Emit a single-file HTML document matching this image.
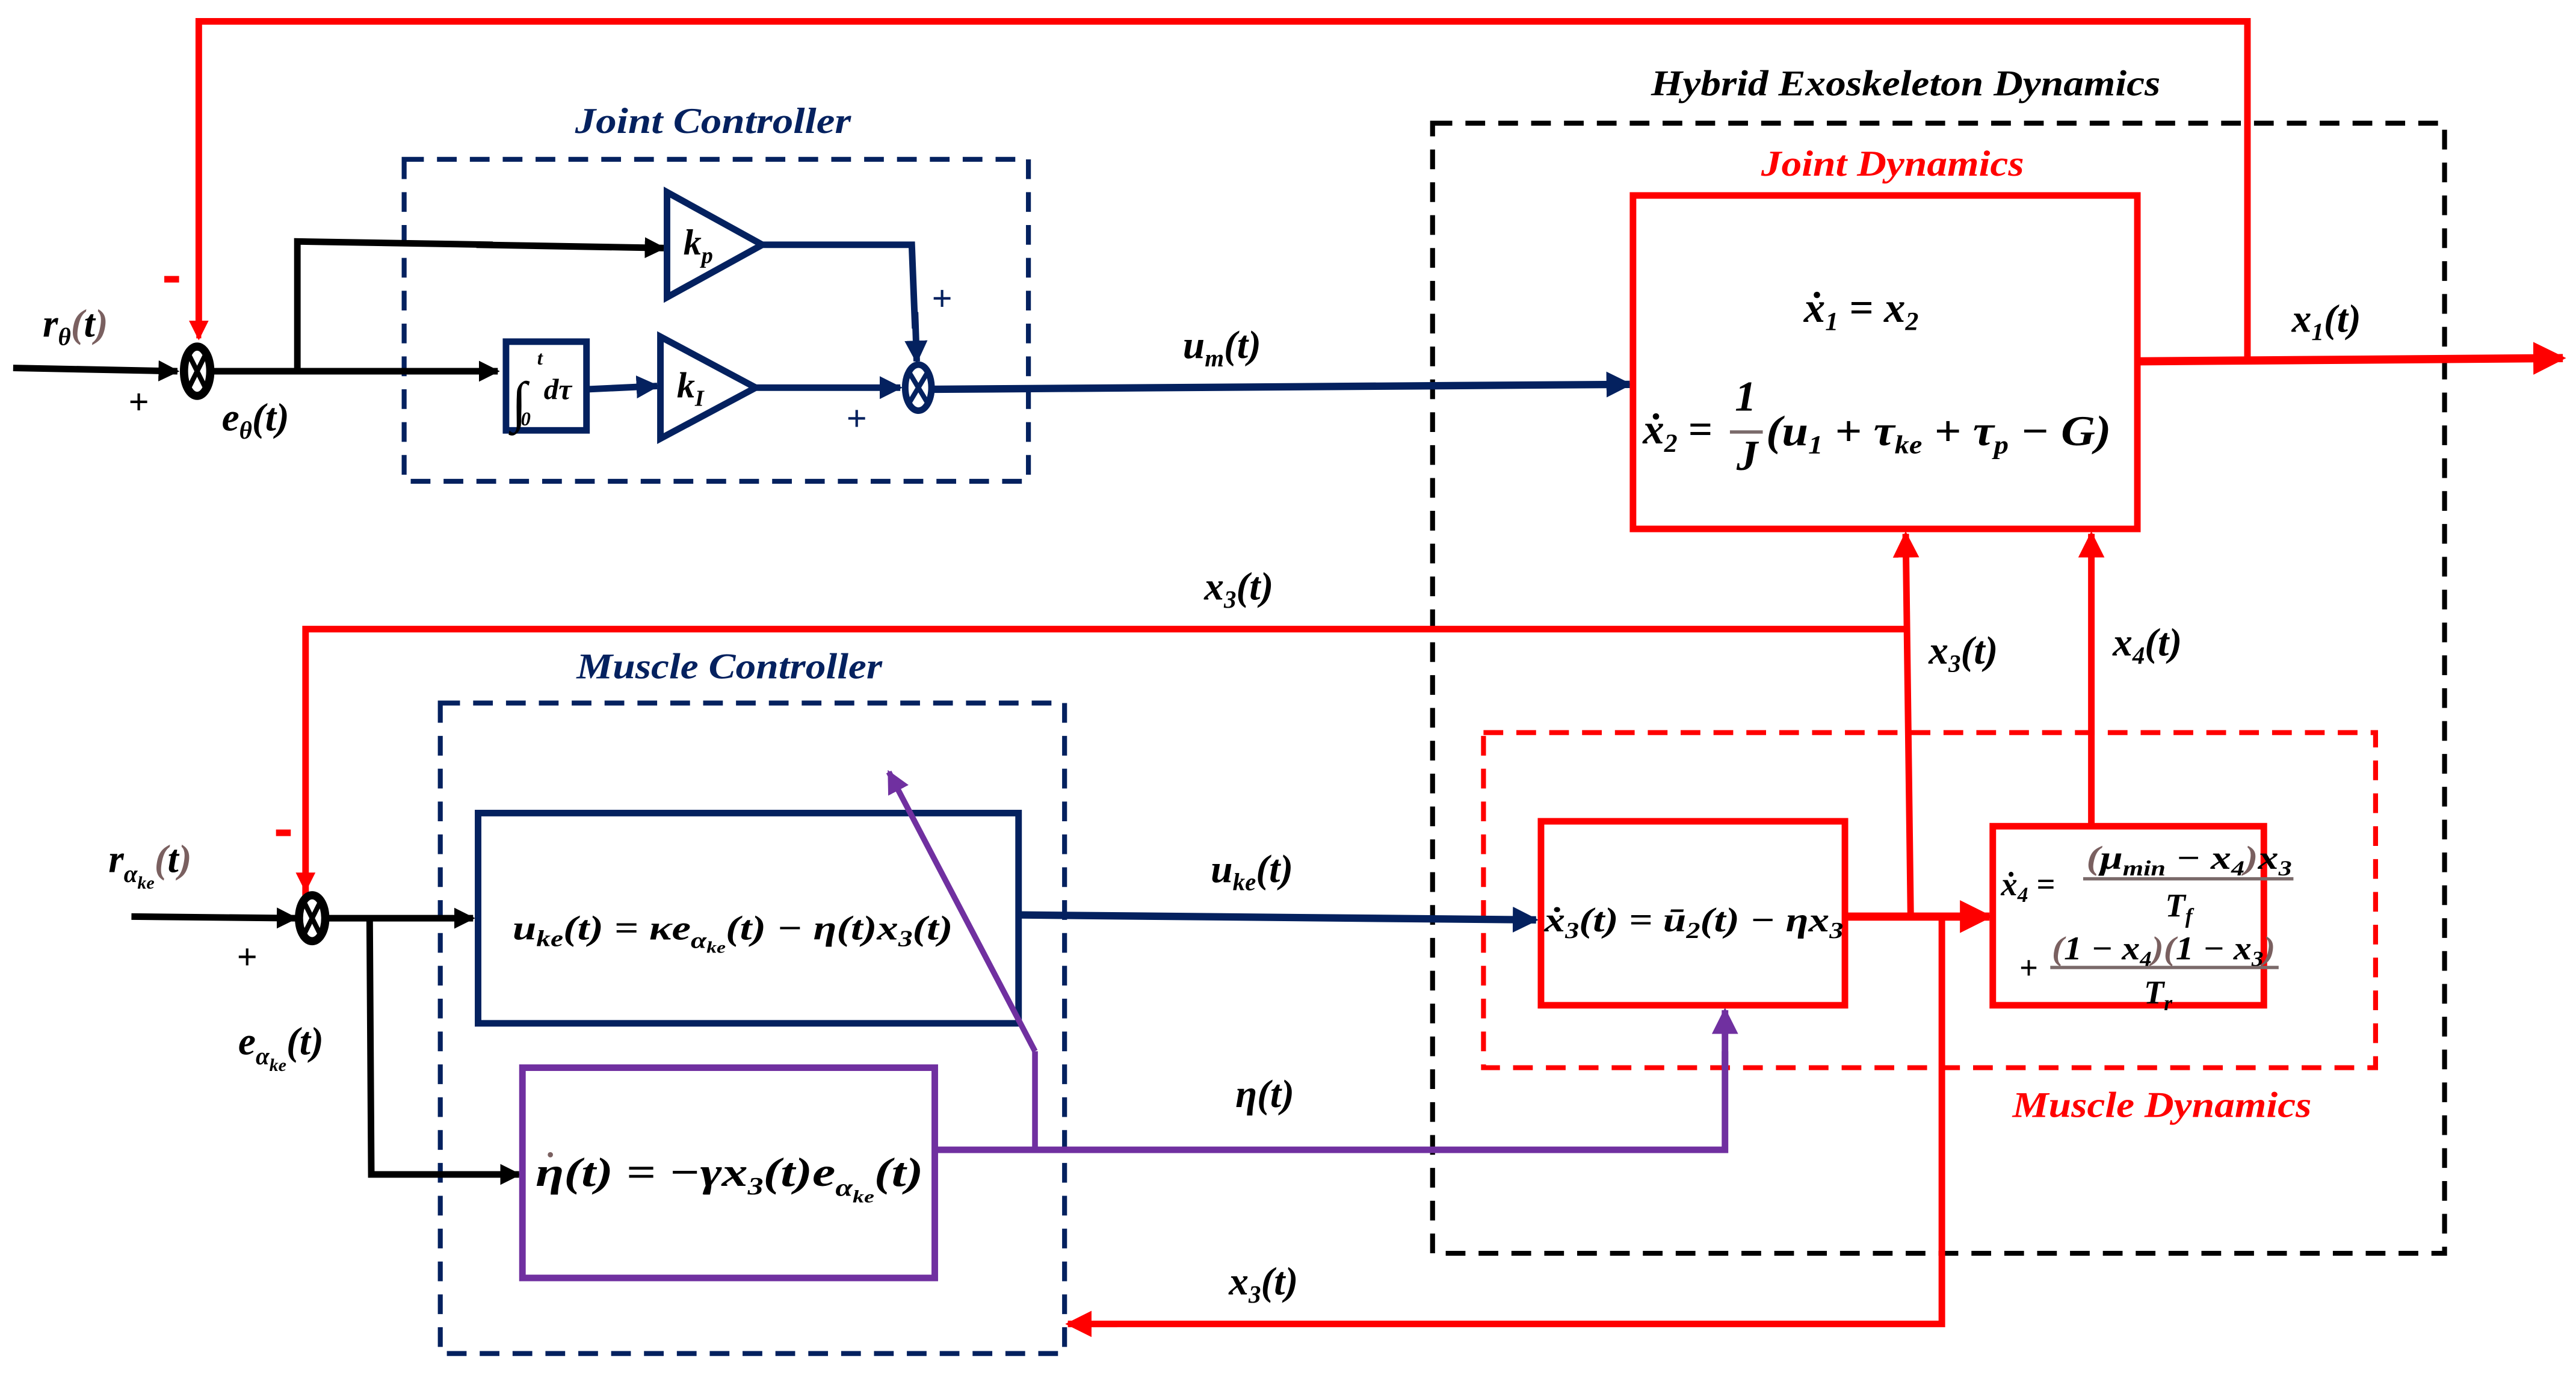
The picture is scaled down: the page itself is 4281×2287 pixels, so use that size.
<!DOCTYPE html>
<html><head><meta charset="utf-8"><style>
html,body{margin:0;padding:0;background:#fff;}
svg{display:block;}
text{font-family:"Liberation Serif",serif;font-weight:bold;font-style:italic;}
</style></head><body>
<svg width="4281" height="2287" viewBox="0 0 1568 837.7" preserveAspectRatio="none" xmlns="http://www.w3.org/2000/svg">
<defs>
<marker id="ar" viewBox="0 0 10 10" refX="9" refY="5" markerWidth="4" markerHeight="4" orient="auto" markerUnits="strokeWidth"><path d="M0,0L10,5L0,10z" fill="#f00"/></marker>
<marker id="ak" viewBox="0 0 10 10" refX="9" refY="5" markerWidth="3.2" markerHeight="3.2" orient="auto" markerUnits="strokeWidth"><path d="M0,0L10,5L0,10z" fill="#000"/></marker>
<marker id="an" viewBox="0 0 10 10" refX="9" refY="5" markerWidth="3.5" markerHeight="3.5" orient="auto" markerUnits="strokeWidth"><path d="M0,0L10,5L0,10z" fill="#04215f"/></marker>
<marker id="ap" viewBox="0 0 10 10" refX="9" refY="5" markerWidth="4" markerHeight="4" orient="auto" markerUnits="strokeWidth"><path d="M0,0L10,5L0,10z" fill="#7030a0"/></marker>
</defs>

<rect x="246" y="97" width="380" height="196" fill="none" stroke="#04215f" stroke-width="3" stroke-dasharray="12,8"/>
<rect x="872" y="75" width="616" height="688" fill="none" stroke="#000" stroke-width="3" stroke-dasharray="12,8"/>
<rect x="268" y="428" width="380" height="396" fill="none" stroke="#04215f" stroke-width="3" stroke-dasharray="12,8"/>
<rect x="903" y="446" width="543" height="204" fill="none" stroke="#f00" stroke-width="3" stroke-dasharray="12,8"/>

<text x="434" y="81" font-size="22" fill="#04215f" text-anchor="middle" textLength="168" lengthAdjust="spacingAndGlyphs">Joint Controller</text>
<text x="1160" y="58" font-size="22" fill="#000" text-anchor="middle" textLength="310" lengthAdjust="spacingAndGlyphs">Hybrid Exoskeleton Dynamics</text>
<text x="1152" y="107" font-size="22" fill="#f00" text-anchor="middle" textLength="160" lengthAdjust="spacingAndGlyphs">Joint Dynamics</text>
<text x="444" y="413" font-size="22" fill="#04215f" text-anchor="middle" textLength="186" lengthAdjust="spacingAndGlyphs">Muscle Controller</text>
<text x="1316" y="680" font-size="22" fill="#f00" text-anchor="middle" textLength="182" lengthAdjust="spacingAndGlyphs">Muscle Dynamics</text>

<polyline points="121,200 121,13 1368,13 1368,219" fill="none" stroke="#f00" stroke-width="4"/>
<line x1="121" y1="150" x2="121" y2="206" stroke="#f00" stroke-width="3" marker-end="url(#ar)"/>

<line x1="8" y1="224" x2="108" y2="226" stroke="#000" stroke-width="4" marker-end="url(#ak)"/>
<ellipse cx="120" cy="226" rx="8" ry="15" fill="none" stroke="#000" stroke-width="5"/>
<path d="M114,214 L126,238 M126,214 L114,238" stroke="#000" stroke-width="3"/>
<text x="78" y="252" font-size="22" fill="#000" font-style="normal" font-weight="normal">+</text>
<rect x="100" y="168" width="9" height="4" fill="#f00"/>
<text x="26" y="205" font-size="24" fill="#000">r<tspan font-size="15" dy="5">θ</tspan><tspan dy="-5" fill="#7a6060">(</tspan>t<tspan fill="#7a6060">)</tspan></text>
<text x="135" y="262" font-size="24" fill="#000">e<tspan font-size="15" dy="5">θ</tspan><tspan dy="-5">(t)</tspan></text>

<line x1="128" y1="226" x2="303" y2="226" stroke="#000" stroke-width="4" marker-end="url(#ak)"/>
<polyline points="181,226 181,147 300,149" fill="none" stroke="#000" stroke-width="4"/>
<line x1="290" y1="149" x2="404" y2="151" stroke="#000" stroke-width="4" marker-end="url(#ak)"/>
<rect x="308" y="208" width="49" height="54" fill="none" stroke="#04215f" stroke-width="4"/>
<text x="311" y="256" font-size="34" fill="#000" font-style="normal" font-weight="normal">∫</text>
<text x="327" y="222" font-size="12" fill="#000">t</text>
<text x="317" y="259" font-size="12" fill="#000">0</text>
<text x="331" y="243" font-size="18" fill="#000">dτ</text>
<line x1="357" y1="237" x2="400" y2="235" stroke="#04215f" stroke-width="4" marker-end="url(#an)"/>
<polygon points="406,117 406,181 464,149" fill="none" stroke="#04215f" stroke-width="4"/>
<polygon points="402,205 402,267 460,236" fill="none" stroke="#04215f" stroke-width="4"/>
<text x="416" y="155" font-size="22" fill="#000">k<tspan font-size="14" dy="5">p</tspan></text>
<text x="412" y="242" font-size="22" fill="#000">k<tspan font-size="14" dy="5">I</tspan></text>
<polyline points="464,149 555,149 557,200" fill="none" stroke="#04215f" stroke-width="4"/>
<line x1="557" y1="190" x2="558" y2="220" stroke="#04215f" stroke-width="4" marker-end="url(#an)"/>
<line x1="460" y1="236" x2="548" y2="236" stroke="#04215f" stroke-width="4" marker-end="url(#an)"/>
<ellipse cx="559" cy="236" rx="8" ry="14" fill="none" stroke="#04215f" stroke-width="4"/>
<path d="M553,226 L565,246 M565,226 L553,246" stroke="#04215f" stroke-width="3"/>
<text x="567" y="189" font-size="22" fill="#04215f" font-style="normal" font-weight="normal">+</text>
<text x="515" y="262" font-size="22" fill="#04215f" font-style="normal" font-weight="normal">+</text>
<line x1="568" y1="237" x2="992" y2="234" stroke="#04215f" stroke-width="4.5" marker-end="url(#an)"/>
<text x="720" y="218" font-size="24" fill="#000">u<tspan font-size="15" dy="5">m</tspan><tspan dy="-5">(t)</tspan></text>

<rect x="994" y="119" width="307" height="203" fill="none" stroke="#f00" stroke-width="4"/>
<text x="1098" y="196" font-size="26" fill="#000">ẋ<tspan font-size="16" dy="5">1</tspan><tspan dy="-5"> = x</tspan><tspan font-size="16" dy="5">2</tspan></text>
<text x="1000" y="270" font-size="26" fill="#000">ẋ<tspan font-size="16" dy="5">2</tspan><tspan dy="-5"> =</tspan></text>
<text x="1056" y="250" font-size="26" fill="#000" font-style="normal">1</text>
<line x1="1053" y1="263" x2="1073" y2="263" stroke="#7a6a6a" stroke-width="2"/>
<text x="1057" y="286" font-size="26" fill="#000">J</text>
<text x="1075" y="271" font-size="26" fill="#000" textLength="210" lengthAdjust="spacingAndGlyphs">(u<tspan font-size="16" dy="5">1</tspan><tspan dy="-5"> + τ</tspan><tspan font-size="16" dy="5">ke</tspan><tspan dy="-5"> + τ</tspan><tspan font-size="16" dy="5">p</tspan><tspan dy="-5"> − G)</tspan></text>
<line x1="1301" y1="220" x2="1560" y2="218" stroke="#f00" stroke-width="5" marker-end="url(#ar)"/>
<text x="1395" y="202" font-size="24" fill="#000">x<tspan font-size="15" dy="5">1</tspan><tspan dy="-5">(t)</tspan></text>

<polyline points="186,548 186,383 1160,383" fill="none" stroke="#f00" stroke-width="4"/>
<line x1="186" y1="500" x2="186" y2="542" stroke="#f00" stroke-width="3" marker-end="url(#ar)"/>
<line x1="1163" y1="557" x2="1160" y2="325" stroke="#f00" stroke-width="4" marker-end="url(#ar)"/>
<line x1="1273" y1="503" x2="1273" y2="325" stroke="#f00" stroke-width="4" marker-end="url(#ar)"/>
<text x="733" y="365" font-size="24" fill="#000">x<tspan font-size="15" dy="5">3</tspan><tspan dy="-5">(t)</tspan></text>
<text x="1174" y="404" font-size="24" fill="#000">x<tspan font-size="15" dy="5">3</tspan><tspan dy="-5">(t)</tspan></text>
<text x="1286" y="399" font-size="24" fill="#000">x<tspan font-size="15" dy="5">4</tspan><tspan dy="-5">(t)</tspan></text>

<line x1="80" y1="558" x2="180" y2="559" stroke="#000" stroke-width="4" marker-end="url(#ak)"/>
<ellipse cx="190" cy="559" rx="8" ry="14" fill="none" stroke="#000" stroke-width="5"/>
<path d="M185,549 L195,569 M195,549 L185,569" stroke="#000" stroke-width="3"/>
<rect x="168" y="505" width="9" height="4" fill="#f00"/>
<text x="144" y="590" font-size="22" fill="#000" font-style="normal" font-weight="normal">+</text>
<text x="66" y="531" font-size="24" fill="#000">r<tspan font-size="15" dy="6">α</tspan><tspan font-size="11" dy="4">ke</tspan><tspan dy="-10" fill="#7a6060">(</tspan>t<tspan fill="#7a6060">)</tspan></text>
<text x="145" y="642" font-size="24" fill="#000">e<tspan font-size="15" dy="6">α</tspan><tspan font-size="11" dy="4">ke</tspan><tspan dy="-10">(t)</tspan></text>
<line x1="198" y1="559" x2="288" y2="559" stroke="#000" stroke-width="4" marker-end="url(#ak)"/>
<polyline points="225,559 226,715 300,715" fill="none" stroke="#000" stroke-width="4"/>
<line x1="290" y1="715" x2="316" y2="715" stroke="#000" stroke-width="4" marker-end="url(#ak)"/>

<rect x="291" y="495" width="329" height="128" fill="none" stroke="#04215f" stroke-width="4"/>
<text x="312" y="572" font-size="21" fill="#000" textLength="268" lengthAdjust="spacingAndGlyphs">u<tspan font-size="14" dy="4">ke</tspan><tspan dy="-4">(t) = κe</tspan><tspan font-size="14" dy="5">α</tspan><tspan font-size="10" dy="3">ke</tspan><tspan dy="-8">(t) − η(t)x</tspan><tspan font-size="14" dy="4">3</tspan><tspan dy="-4">(t)</tspan></text>
<rect x="318" y="650" width="251" height="128" fill="none" stroke="#7030a0" stroke-width="4"/>
<circle cx="335" cy="703" r="1.6" fill="#7a6060"/>
<text x="326" y="722" font-size="25" fill="#000" textLength="236" lengthAdjust="spacingAndGlyphs">η(t) = −γx<tspan font-size="15" dy="5">3</tspan><tspan dy="-5">(t)e</tspan><tspan font-size="15" dy="6">α</tspan><tspan font-size="11" dy="4">ke</tspan><tspan dy="-10">(t)</tspan></text>

<polyline points="569,700 1050,700 1050,640" fill="none" stroke="#7030a0" stroke-width="4"/>
<line x1="1050" y1="650" x2="1050" y2="615" stroke="#7030a0" stroke-width="4" marker-end="url(#ap)"/>
<polyline points="630,700 630,640" fill="none" stroke="#7030a0" stroke-width="3.5"/>
<line x1="630" y1="640" x2="541" y2="470" stroke="#7030a0" stroke-width="3.5" marker-end="url(#ap)"/>
<text x="752" y="674" font-size="24" fill="#000">η(t)</text>

<line x1="620" y1="557" x2="935" y2="560" stroke="#04215f" stroke-width="4.5" marker-end="url(#an)"/>
<text x="737" y="537" font-size="24" fill="#000">u<tspan font-size="15" dy="5">ke</tspan><tspan dy="-5">(t)</tspan></text>

<rect x="938" y="500" width="185" height="112" fill="none" stroke="#f00" stroke-width="4"/>
<text x="940" y="567" font-size="21" fill="#000" textLength="182" lengthAdjust="spacingAndGlyphs">ẋ<tspan font-size="14" dy="4">3</tspan><tspan dy="-4">(t) = ū</tspan><tspan font-size="14" dy="4">2</tspan><tspan dy="-4">(t) − ηx</tspan><tspan font-size="14" dy="4">3</tspan></text>
<rect x="1213" y="503" width="165" height="109" fill="none" stroke="#f00" stroke-width="4"/>
<text x="1218" y="545" font-size="20" fill="#000">ẋ<tspan font-size="13" dy="4">4</tspan><tspan dy="-4"> =</tspan></text>
<text x="1270" y="529" font-size="20" fill="#000" textLength="125" lengthAdjust="spacingAndGlyphs"><tspan fill="#7a6060">(</tspan>μ<tspan font-size="13" dy="4">min</tspan><tspan dy="-4"> − x</tspan><tspan font-size="13" dy="4">4</tspan><tspan dy="-4" fill="#7a6060">)</tspan>x<tspan font-size="13" dy="4">3</tspan></text>
<line x1="1268" y1="535" x2="1396" y2="535" stroke="#7a6a6a" stroke-width="2"/>
<text x="1318" y="558" font-size="20" fill="#000">T<tspan font-size="13" dy="4">f</tspan></text>
<text x="1229" y="596" font-size="20" fill="#000" font-style="normal" font-weight="normal">+</text>
<text x="1249" y="584" font-size="20" fill="#000" textLength="136" lengthAdjust="spacingAndGlyphs"><tspan fill="#7a6060">(</tspan>1 − x<tspan font-size="13" dy="4">4</tspan><tspan dy="-4" fill="#7a6060">)(</tspan>1 − x<tspan font-size="13" dy="4">3</tspan><tspan dy="-4" fill="#7a6060">)</tspan></text>
<line x1="1248" y1="589" x2="1387" y2="589" stroke="#7a6a6a" stroke-width="2"/>
<text x="1305" y="611" font-size="20" fill="#000">T<tspan font-size="13" dy="4">r</tspan></text>

<line x1="1123" y1="558" x2="1211" y2="558" stroke="#f00" stroke-width="5" marker-end="url(#ar)"/>
<polyline points="1182,558 1182,806 660,806" fill="none" stroke="#f00" stroke-width="4"/>
<line x1="680" y1="806" x2="650" y2="806" stroke="#f00" stroke-width="4" marker-end="url(#ar)"/>
<text x="748" y="788" font-size="24" fill="#000">x<tspan font-size="15" dy="5">3</tspan><tspan dy="-5">(t)</tspan></text>
</svg>
</body></html>
